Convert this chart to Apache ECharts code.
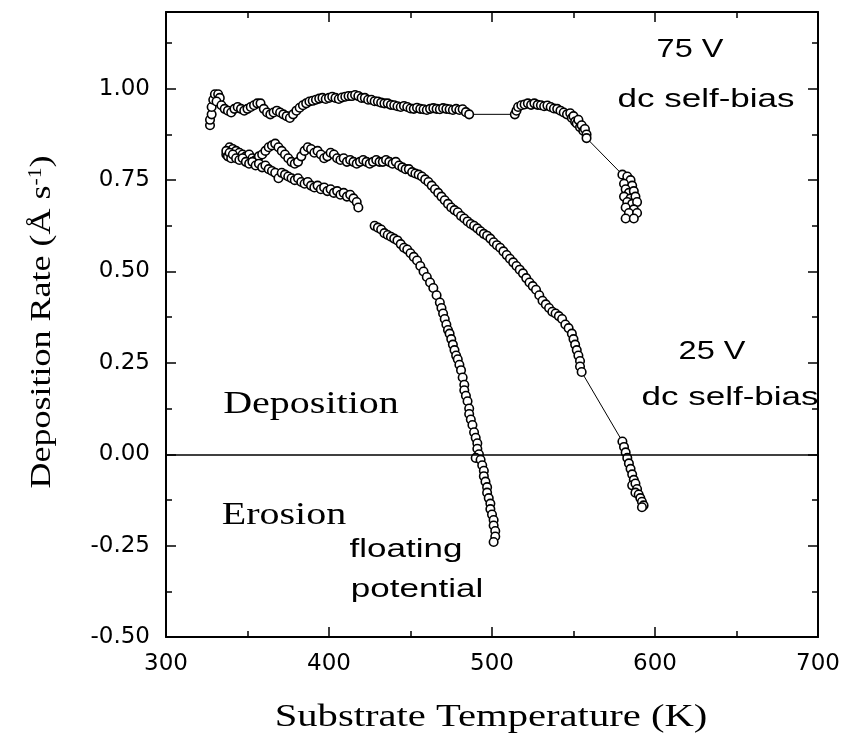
<!DOCTYPE html>
<html lang="en">
  <head>
    <meta charset="utf-8" />
    <title>Deposition rate vs substrate temperature</title>
    <script type="text/javascript" src="https://cdn.jsdelivr.net/npm/echarts@6/dist/echarts.min.js"></script>
    <style>
      html, body { margin: 0; padding: 0; background: #fff; }
      #chart { width: 847px; height: 742px; }
    </style>
  </head>
  <body>
    <div id="chart"></div>
    <script>
      // 75 V dc self-bias, three runs of points joined by thin lines
      var bias75a = [
        [327,0.90],[327,0.915],[328,0.93],[328,0.95],[329,0.97],[330,0.985],[332,0.985],[333,0.975],[331,0.965],
        [334,0.955],[336,0.945],[338,0.94],[340,0.935],[342,0.945],[344,0.95],[346,0.945],[348,0.94],[350,0.945],
        [352,0.95],[354,0.955],[356,0.96],[358,0.96],[360,0.945],[362,0.935],[364,0.93],[366,0.935],[368,0.94],
        [370,0.935],[372,0.93],[374,0.925],[376,0.92],[378,0.93],[380,0.94],[382,0.948],[384,0.955],[386,0.96],
        [388,0.965],[390,0.967],[392,0.97],[394,0.973],[396,0.975],[398,0.972],[400,0.975],[402,0.978],[404,0.975],
        [406,0.972],[408,0.976],[410,0.978],[412,0.98],[414,0.98],[416,0.983],[418,0.98],[420,0.975],[422,0.975],
        [424,0.97],[426,0.97],[428,0.966],[430,0.965],[432,0.962],[434,0.96],[436,0.96],[438,0.956],[440,0.955],
        [442,0.952],[444,0.95],[446,0.953],[448,0.95],[450,0.946],[452,0.945],[454,0.948],[456,0.945],[458,0.944],
        [460,0.942],[462,0.945],[464,0.947],[466,0.945],[468,0.944],[470,0.947],[472,0.945],[474,0.944],[476,0.942],
        [478,0.945],[480,0.942],[482,0.944],[484,0.936],[486,0.93]
      ];
      var bias75b = [
        [514,0.93],[515,0.94],[516,0.95],[518,0.955],[520,0.957],[522,0.96],[524,0.956],[526,0.96],[528,0.956],
        [530,0.955],[532,0.952],[534,0.954],[536,0.95],[538,0.946],[540,0.945],[542,0.94],[544,0.935],[546,0.93],
        [548,0.933],[549,0.92],[550,0.925],[551,0.91],[552,0.905],[553,0.915],[554,0.895],[555,0.9],[556,0.885],
        [557,0.89],[558,0.875],[558,0.865]
      ];
      var bias75c = [
        [580,0.765],[583,0.76],[585,0.75],[581,0.74],[586,0.735],[582,0.725],[584,0.715],[587,0.72],[581,0.705],
        [585,0.70],[588,0.705],[583,0.69],[586,0.685],[589,0.69],[582,0.675],[587,0.67],[584,0.66],[589,0.66],
        [582,0.645],[587,0.645]
      ];

      // 25 V dc self-bias
      var bias25a = [
        [337,0.82],[338,0.83],[339,0.84],[340,0.825],[341,0.835],[342,0.82],[343,0.83],[345,0.825],[347,0.82],
        [349,0.815],[351,0.82],[353,0.81],[355,0.805],[357,0.815],[359,0.82],[361,0.83],[363,0.84],[365,0.845],
        [367,0.85],[369,0.84],[371,0.83],[373,0.82],[375,0.81],[377,0.80],[379,0.795],[381,0.80],[383,0.815],
        [385,0.83],[387,0.84],[389,0.835],[391,0.825],[393,0.83],[395,0.82],[397,0.81],[399,0.815],[401,0.825],
        [403,0.82],[405,0.81],[407,0.805],[409,0.81],[411,0.80],[413,0.805],[415,0.80],[417,0.795],[419,0.80],
        [421,0.805],[423,0.80],[425,0.795],[427,0.80],[429,0.805],[431,0.80],[433,0.80],[435,0.805],[437,0.80],
        [439,0.795],[441,0.80],[443,0.79],[445,0.785],[447,0.78],[449,0.78],[451,0.772],[453,0.768],[455,0.765],
        [457,0.76],[459,0.752],[461,0.745],[463,0.735],[465,0.725],[467,0.715],[469,0.705],[471,0.695],[473,0.685],
        [475,0.675],[477,0.668],[479,0.662],[481,0.652],[483,0.645],[485,0.637],[487,0.63],[489,0.625],[491,0.618],
        [493,0.61],[495,0.603],[497,0.598],[499,0.59],[501,0.58],[503,0.572],[505,0.565],[507,0.555],[509,0.545],
        [511,0.535],[513,0.525],[515,0.515],[517,0.505],[519,0.495],[521,0.482],[523,0.47],[525,0.46],[527,0.45],
        [529,0.435],[531,0.42],[533,0.41],[535,0.40],[537,0.39],[539,0.385],[541,0.378],[543,0.37],[545,0.355],
        [547,0.345],[549,0.33],[550,0.315],[551,0.30],[552,0.285],[553,0.27],[554,0.255],[554,0.24],[555,0.225]
      ];
      var bias25b = [
        [580,0.035],[581,0.02],[582,0.005],[583,-0.01],[584,-0.025],[585,-0.04],[586,-0.055],[587,-0.07],
        [586,-0.085],[588,-0.08],[589,-0.095],[588,-0.105],[590,-0.11],[591,-0.12],[592,-0.13],[593,-0.14],
        [592,-0.145]
      ];

      // floating potential, two runs with a gap and no joining line
      var floatA = [
        [337,0.83],[338,0.815],[339,0.825],[340,0.81],[341,0.82],[343,0.81],[345,0.805],[347,0.81],[349,0.80],
        [351,0.795],[353,0.80],[355,0.79],[357,0.795],[359,0.785],[361,0.79],[363,0.78],[365,0.775],[367,0.77],
        [369,0.755],[371,0.77],[373,0.765],[375,0.76],[377,0.755],[379,0.75],[381,0.755],[383,0.745],[385,0.74],
        [387,0.745],[389,0.735],[391,0.73],[393,0.735],[395,0.725],[397,0.73],[399,0.72],[401,0.725],[403,0.715],
        [405,0.72],[407,0.71],[409,0.715],[411,0.705],[413,0.71],[415,0.70],[417,0.69],[418,0.675]
      ];
      var floatB = [
        [428,0.625],[430,0.62],[432,0.615],[434,0.605],[436,0.60],[438,0.595],[440,0.59],[442,0.585],[444,0.575],
        [446,0.565],[448,0.56],[450,0.55],[452,0.54],[454,0.53],[456,0.515],[458,0.50],[460,0.485],[462,0.47],
        [464,0.455],[466,0.435],[468,0.415],[469,0.40],[470,0.385],[471,0.37],[472,0.355],[473,0.34],[474,0.33],
        [475,0.315],[476,0.30],[477,0.285],[478,0.27],[479,0.26],[480,0.245],[481,0.23],[482,0.21],[483,0.19],
        [483,0.175],[484,0.16],[485,0.145],[486,0.125],[486,0.11],[487,0.095],[488,0.08],[489,0.06],[490,0.045],
        [491,0.03],[491,0.015],[492,0.0],[490,-0.01],[493,-0.015],[494,-0.03],[495,-0.045],[495,-0.06],[496,-0.075],
        [497,-0.09],[497,-0.105],[498,-0.12],[499,-0.135],[499,-0.15],[500,-0.165],[501,-0.18],[501,-0.195],
        [502,-0.21],[502,-0.225],[501,-0.24]
      ];

      var xTicks = { min: 300, max: 700, step: 100 };
      var yTicks = { min: -0.5, max: 1.21, step: 0.25, lastLabel: 1.0 };

      var chart = echarts.init(document.getElementById('chart'), null, { renderer: 'canvas' });

      var tickFont = 'DejaVu Sans';
      var serif = 'Liberation Serif';
      var sans = 'Liberation Sans';

      function scatter(data) {
        return {
          type: 'scatter',
          data: data,
          symbol: 'circle',
          symbolSize: 8.5,
          itemStyle: { color: '#fff', borderColor: '#000', borderWidth: 1.6, opacity: 1 },
          silent: true,
          z: 3
        };
      }

      // thin joining line between end of one run and start of the next
      function joiner(a, b) {
        return {
          type: 'line',
          data: [a[a.length - 1], b[0]],
          showSymbol: false,
          lineStyle: { color: '#000', width: 1 },
          silent: true,
          z: 2
        };
      }

      function xAxis(pos, labels) {
        return {
          type: 'value', position: pos, min: xTicks.min, max: xTicks.max, interval: xTicks.step,
          axisLine: { show: true, onZero: false, lineStyle: { color: '#000', width: 2 } },
          axisTick: { show: true, inside: true, length: 10, lineStyle: { color: '#000', width: 1.5 } },
          minorTick: { show: true, splitNumber: 2, length: 6, lineStyle: { color: '#000', width: 1.5 } },
          axisLabel: { show: labels, color: '#000', fontFamily: tickFont, fontSize: 23, margin: 16 },
          splitLine: { show: false }
        };
      }

      function yAxis(pos, labels) {
        return {
          type: 'value', position: pos, min: yTicks.min, max: yTicks.max, interval: yTicks.step,
          axisLine: { show: true, onZero: false, lineStyle: { color: '#000', width: 2 } },
          axisTick: { show: true, inside: true, length: 10, lineStyle: { color: '#000', width: 1.5 } },
          minorTick: { show: true, splitNumber: 2, length: 6, lineStyle: { color: '#000', width: 1.5 } },
          axisLabel: {
            show: labels, color: '#000', fontFamily: tickFont, fontSize: 23, margin: 16,
            formatter: function (v) { return v > yTicks.lastLabel + 0.01 ? '' : v.toFixed(2); }
          },
          splitLine: { show: false }
        };
      }

      function label(text, x, y, font, size, sx, extra) {
        var el = {
          type: 'text', x: x, y: y, scaleX: sx, silent: true,
          style: {
            text: text, font: size + 'px "' + font + '"', fill: '#000',
            align: 'center', verticalAlign: 'middle', textAlign: 'center', textVerticalAlign: 'middle'
          }
        };
        if (extra) {
          for (var k in extra) el[k] = extra[k];
        }
        return el;
      }

      var series = [
        scatter(bias75a), scatter(bias75b), scatter(bias75c),
        scatter(bias25a), scatter(bias25b),
        scatter(floatA), scatter(floatB),
        joiner(bias75a, bias75b), joiner(bias75b, bias75c), joiner(bias25a, bias25b)
      ];
      // zero line
      series[0].markLine = {
        silent: true, symbol: 'none', label: { show: false },
        lineStyle: { color: '#000', width: 1.5, type: 'solid' },
        data: [{ yAxis: 0 }]
      };

      var yTitle = label('Deposition Rate (Å s{sup|-1})', 42, 322, serif, 30, 1.2, { rotation: Math.PI / 2 });
      yTitle.style.rich = { sup: { font: '18px "' + serif + '"', verticalAlign: 'top', fill: '#000' } };

      chart.setOption({
        animation: false,
        backgroundColor: '#fff',
        grid: { left: 166, right: 29, top: 12, bottom: 105 },
        xAxis: [xAxis('bottom', true), xAxis('top', false)],
        yAxis: [yAxis('left', true), yAxis('right', false)],
        series: series,
        graphic: [
          label('75 V', 690, 50, sans, 25, 1.3),
          label('dc self-bias', 706, 100, sans, 25, 1.4),
          label('25 V', 712, 352, sans, 25, 1.3),
          label('dc self-bias', 730, 398, sans, 25, 1.4),
          label('Deposition', 311, 405, serif, 32, 1.25),
          label('Erosion', 284, 516, serif, 32, 1.25),
          label('floating', 406, 550, sans, 25, 1.4),
          label('potential', 417, 590, sans, 25, 1.4),
          label('Substrate Temperature (K)', 491, 718, serif, 32, 1.27),
          yTitle
        ]
      });
    </script>
  </body>
</html>
